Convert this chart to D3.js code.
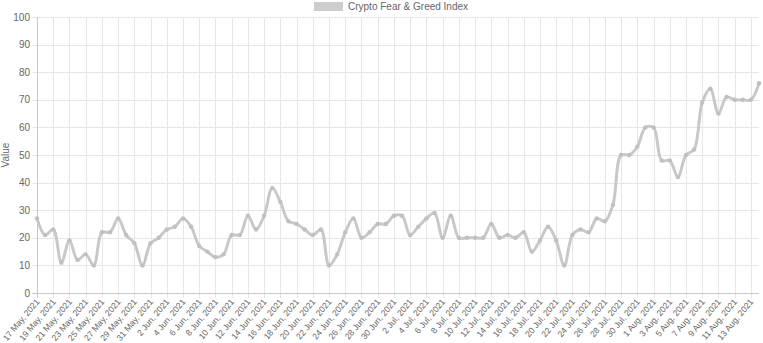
<!DOCTYPE html>
<html>
<head>
<meta charset="utf-8">
<script src="https://cdnjs.cloudflare.com/ajax/libs/d3/7.8.5/d3.min.js"></script>
<style>
  body { margin: 0; background: #fff; }
  svg text { font-family: "Liberation Sans", Arial, sans-serif; fill: #666; }
</style>
</head>
<body>
<div id="chart"></div>
<script>
  var width = 763,
      height = 343;

  var startDate = new Date(2021, 4, 17);
  var values = [27, 21, 23, 11, 19, 12, 14, 10, 22, 22,
                27, 21, 18, 10, 18, 20, 23, 24, 27, 24,
                17, 15, 13, 14, 21, 21, 28, 23, 28, 38,
                33, 26, 25, 23, 21, 23, 10, 14, 22, 27,
                20, 22, 25, 25, 28, 28, 21, 24, 27, 29,
                20, 28, 20, 20, 20, 20, 25, 20, 21, 20,
                22, 15, 19, 24, 19, 10, 21, 23, 22, 27,
                26, 32, 50, 50, 53, 60, 60, 48, 48, 42,
                50, 52, 69, 74, 65, 71, 70, 70, 70, 76];
  var yTicks = [0, 10, 20, 30, 40, 50, 60, 70, 80, 90, 100];
  var months = ["Jan", "Feb", "Mar", "Apr", "May", "Jun", "Jul", "Aug", "Sep", "Oct", "Nov", "Dec"];

  var dates = values.map(function(v, i) {
    return new Date(startDate.getFullYear(), startDate.getMonth(), startDate.getDate() + i);
  });
  var labels = dates.map(function(d) {
    return d.getDate() + " " + months[d.getMonth()] + ", " + d.getFullYear();
  });

  var margin = {top: 17, right: 4, bottom: 50, left: 37};

  var svg = d3.select("#chart")
      .append("svg")
      .attr("width", width)
      .attr("height", height);

  var x = d3.scalePoint()
      .domain(labels)
      .range([margin.left, width - margin.right]);

  var y = d3.scaleLinear()
      .domain([0, 100])
      .range([height - margin.bottom, margin.top]);

  // grid lines, every second label
  var shown = labels.filter(function(d, i) { return i % 2 === 0; });

  svg.append("g")
    .selectAll("line")
    .data(shown)
    .enter().append("line")
      .attr("x1", function(d) { return Math.round(x(d)) + 0.5; })
      .attr("x2", function(d) { return Math.round(x(d)) + 0.5; })
      .attr("y1", margin.top)
      .attr("y2", y(0) + 5)
      .attr("stroke", "#e6e6e6")
      .attr("stroke-width", 1);

  svg.append("g")
    .selectAll("line")
    .data(yTicks)
    .enter().append("line")
      .attr("x1", margin.left - 5)
      .attr("x2", width - margin.right)
      .attr("y1", function(d) { return Math.round(y(d)) + 0.5; })
      .attr("y2", function(d) { return Math.round(y(d)) + 0.5; })
      .attr("stroke", function(d) { return d === 0 ? "#c8c8c8" : "#e6e6e6"; })
      .attr("stroke-width", 1);

  // y axis border
  svg.append("line")
    .attr("x1", margin.left + 0.5)
    .attr("x2", margin.left + 0.5)
    .attr("y1", margin.top)
    .attr("y2", y(0) + 5)
    .attr("stroke", "#c8c8c8");

  // y tick labels
  svg.append("g")
    .selectAll("text")
    .data(yTicks)
    .enter().append("text")
      .attr("x", margin.left - 7)
      .attr("y", function(d) { return y(d); })
      .attr("dy", "0.35em")
      .attr("text-anchor", "end")
      .attr("font-size", 10)
      .text(function(d) { return d; });

  svg.append("text")
    .attr("transform", "translate(9," + ((margin.top + y(0)) / 2) + ")rotate(-90)")
    .attr("text-anchor", "middle")
    .attr("font-size", 10)
    .text("Value");

  // x tick labels
  svg.append("g")
    .selectAll("text")
    .data(shown)
    .enter().append("text")
      .attr("transform", function(d) {
        return "translate(" + (x(d) + 3) + "," + (y(0) + 9) + ")rotate(-50)";
      })
      .attr("text-anchor", "end")
      .attr("font-size", 8.6)
      .text(function(d) { return d; });

  // legend
  var legend = svg.append("g");
  legend.append("rect")
    .attr("x", 314)
    .attr("y", 2)
    .attr("width", 29)
    .attr("height", 9)
    .attr("fill", "#cdcdcd");
  legend.append("text")
    .attr("x", 348)
    .attr("y", 10)
    .attr("font-size", 10)
    .text("Crypto Fear & Greed Index");

  // line
  var line = d3.line()
      .x(function(d, i) { return x(labels[i]); })
      .y(function(d) { return y(d); })
      .curve(d3.curveCatmullRom.alpha(0.5));

  svg.append("path")
    .datum(values)
    .attr("d", line)
    .attr("fill", "none")
    .attr("stroke", "#c8c8c8")
    .attr("stroke-width", 3);

  svg.selectAll(".pt")
    .data(values)
    .enter().append("circle")
      .attr("class", "pt")
      .attr("cx", function(d, i) { return x(labels[i]); })
      .attr("cy", function(d) { return y(d); })
      .attr("r", 2.2)
      .attr("fill", "#c0c0c0");
</script>
</body>
</html>
